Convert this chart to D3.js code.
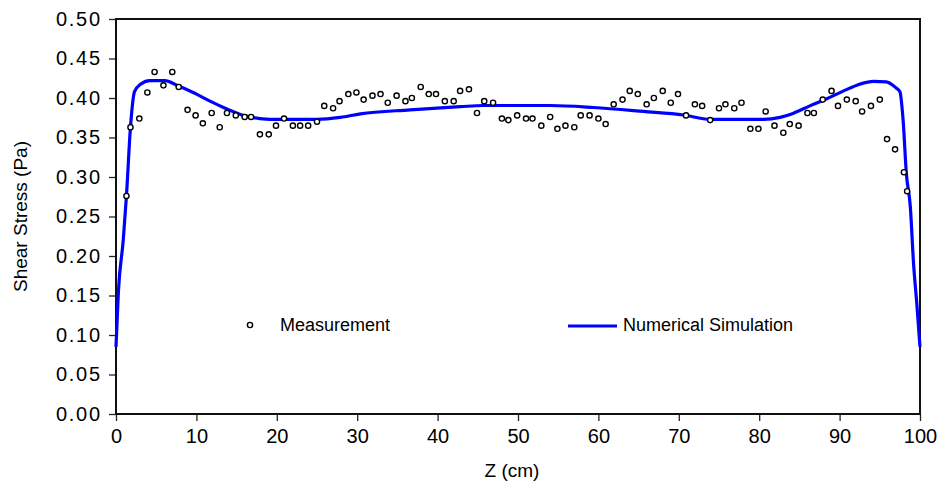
<!DOCTYPE html>
<html>
<head>
<meta charset="utf-8">
<script src="https://cdn.jsdelivr.net/npm/d3@7"></script>
<style>
  body { margin: 0; background: #fff; }
  svg text { font-family: "Liberation Sans", Arial, sans-serif; fill: #000; }
</style>
</head>
<body>
<div id="chart"></div>
<script>
// Measured shear stress (circles)
const measZ = [1.3, 1.8, 2.9, 3.9, 4.8, 5.9, 7.0, 7.8, 8.9, 9.9, 10.8, 11.9, 12.9, 13.8, 14.9, 16.0, 16.8, 17.9, 19.0, 19.9, 20.9, 22.0, 22.9, 23.9, 25.0,
  25.9, 27.0, 27.8, 28.9, 29.9, 30.8, 31.9, 32.9, 33.8, 34.9, 36.0, 36.8, 37.9, 38.9, 39.8, 40.9, 42.0, 42.8, 43.9, 44.9, 45.8, 46.9, 48.0, 48.8, 49.9,
  51.0, 51.8, 52.9, 54.0, 54.9, 55.9, 57.0, 57.8, 58.9, 60.0, 60.9, 61.9, 63.0, 63.9, 64.9, 66.0, 66.9, 68.0, 69.0, 69.9, 70.9, 72.0, 72.9, 73.9, 75.0,
  75.8, 76.9, 77.8, 78.9, 79.9, 80.8, 81.9, 83.0, 83.8, 84.9, 86.0, 86.8, 87.9, 89.0, 89.8, 90.9, 92.0, 92.8, 93.9, 95.0, 95.9, 96.9, 98.0, 98.4];
const measY = [0.276, 0.363, 0.374, 0.407, 0.433, 0.416, 0.433, 0.414, 0.385, 0.378, 0.368, 0.381, 0.363, 0.381, 0.378, 0.376, 0.376, 0.354, 0.354, 0.365, 0.374, 0.365, 0.365, 0.365, 0.370,
  0.390, 0.387, 0.396, 0.405, 0.407, 0.398, 0.403, 0.405, 0.394, 0.403, 0.396, 0.400, 0.414, 0.405, 0.405, 0.396, 0.396, 0.409, 0.411, 0.381, 0.396, 0.394, 0.374, 0.372, 0.378,
  0.374, 0.374, 0.365, 0.376, 0.361, 0.365, 0.363, 0.378, 0.378, 0.374, 0.367, 0.392, 0.398, 0.409, 0.405, 0.392, 0.400, 0.409, 0.394, 0.405, 0.378, 0.392, 0.390, 0.372, 0.387,
  0.392, 0.387, 0.394, 0.361, 0.361, 0.383, 0.365, 0.356, 0.367, 0.365, 0.381, 0.381, 0.398, 0.409, 0.390, 0.398, 0.396, 0.383, 0.390, 0.398, 0.348, 0.335, 0.306, 0.282];

// Numerical simulation (blue line)
const simZ = [0, 0.3, 0.9, 1.3, 1.8, 2.3, 3.0, 4.2, 6.1, 7.5, 9.6, 11.7, 13.8, 15.8, 17.9, 19.2, 25.0, 27.9, 30.4, 36.6, 42.8, 45.7, 50, 54,
  59.4, 65.6, 70.6, 73.9, 80.5, 82.6, 84.2, 86.3, 88.4, 90.5, 92.5, 94.2, 95.8, 97.0, 97.5, 97.9, 98.3, 98.8, 99.2, 99.6, 100];
const simY = [0.085, 0.155, 0.22, 0.276, 0.363, 0.408, 0.417, 0.422, 0.422, 0.4165, 0.407, 0.396, 0.386, 0.378, 0.374, 0.373, 0.373, 0.3755, 0.380, 0.385, 0.389, 0.3905, 0.3905, 0.3905,
  0.388, 0.383, 0.3785, 0.373, 0.373, 0.3755, 0.3805, 0.390, 0.399, 0.409, 0.4175, 0.421, 0.4205, 0.413, 0.408, 0.372, 0.305, 0.262, 0.19, 0.14, 0.085];

const xTicks = [0, 10, 20, 30, 40, 50, 60, 70, 80, 90, 100];
const yTicks = [0, 0.05, 0.10, 0.15, 0.20, 0.25, 0.30, 0.35, 0.40, 0.45, 0.50];

const width = 942, height = 482;
const margin = { top: 19, right: 22, bottom: 68, left: 116 };
const innerW = width - margin.left - margin.right;
const innerH = height - margin.top - margin.bottom;

const svg = d3.select("#chart").append("svg")
  .attr("width", width)
  .attr("height", height);

const g = svg.append("g")
  .attr("transform", `translate(${margin.left},${margin.top})`);

const x = d3.scaleLinear().domain([0, 100]).range([0, innerW]);
const y = d3.scaleLinear().domain([0, 0.5]).range([innerH, 0]);

// axes
const xAxis = g.append("g")
  .attr("transform", `translate(0,${innerH})`)
  .call(d3.axisBottom(x).tickValues(xTicks).tickSize(7).tickSizeOuter(0).tickPadding(8).tickFormat(d3.format("d")));
const yAxis = g.append("g")
  .call(d3.axisLeft(y).tickValues(yTicks).tickSize(7).tickSizeOuter(0).tickPadding(9).tickFormat(d3.format(".2f")));

[xAxis, yAxis].forEach(a => {
  a.select(".domain").remove();
  a.selectAll(".tick line").attr("stroke", "#222").attr("stroke-width", 1.3);
  a.selectAll(".tick text").style("font-size", "20px").style("font-family", "'Liberation Sans', Arial, sans-serif");
});
yAxis.selectAll(".tick text").attr("textLength", 44).attr("lengthAdjust", "spacing");

// frame
g.append("rect")
  .attr("x", 0).attr("y", 0)
  .attr("width", innerW).attr("height", innerH)
  .attr("fill", "none")
  .attr("stroke", "#111")
  .attr("stroke-width", 2);

// simulation line
const simData = simZ.map((z, i) => ({ z: z, v: simY[i] }));
const line = d3.line()
  .x(d => x(d.z))
  .y(d => y(d.v))
  .curve(d3.curveMonotoneX);

g.append("path")
  .datum(simData)
  .attr("d", line)
  .attr("fill", "none")
  .attr("stroke", "#0000ff")
  .attr("stroke-width", 3.2)
  .attr("stroke-linejoin", "round");

// measurement points
const measData = measZ.map((z, i) => ({ z: z, v: measY[i] }));
g.selectAll("circle.meas")
  .data(measData)
  .enter()
  .append("circle")
  .attr("class", "meas")
  .attr("cx", d => x(d.z))
  .attr("cy", d => y(d.v))
  .attr("r", 2.6)
  .attr("fill", "#fff")
  .attr("stroke", "#000")
  .attr("stroke-width", 1.4);

// legend
svg.append("circle")
  .attr("cx", 250).attr("cy", 325)
  .attr("r", 2.6)
  .attr("fill", "#fff")
  .attr("stroke", "#000")
  .attr("stroke-width", 1.4);
svg.append("text")
  .attr("x", 280).attr("y", 331)
  .style("font-size", "18px")
  .text("Measurement");

svg.append("line")
  .attr("x1", 568).attr("x2", 617)
  .attr("y1", 326).attr("y2", 326)
  .attr("stroke", "#0000ff")
  .attr("stroke-width", 3.2);
svg.append("text")
  .attr("x", 623).attr("y", 331)
  .style("font-size", "18px")
  .text("Numerical Simulation");

// axis titles
svg.append("text")
  .attr("x", 512).attr("y", 477)
  .attr("text-anchor", "middle")
  .style("font-size", "19px")
  .text("Z (cm)");

svg.append("text")
  .attr("transform", `translate(27,${margin.top + innerH / 2}) rotate(-90)`)
  .attr("text-anchor", "middle")
  .style("font-size", "19px")
  .text("Shear Stress (Pa)");
</script>
</body>
</html>
